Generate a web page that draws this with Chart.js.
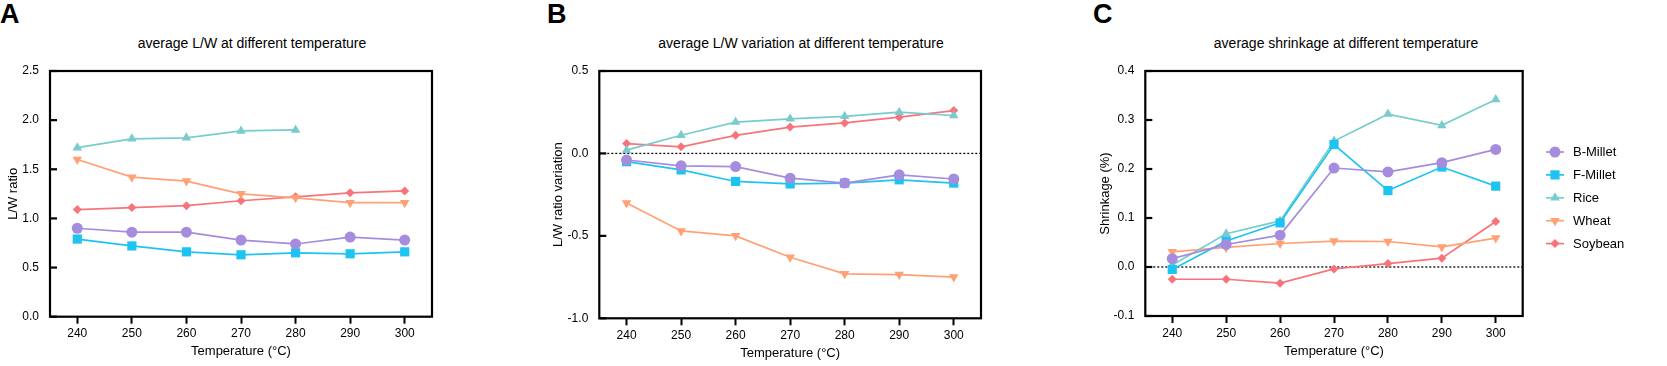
<!DOCTYPE html>
<html>
<head>
<meta charset="utf-8">
<script src="https://cdn.jsdelivr.net/npm/chart.js@4.4.0/dist/chart.umd.min.js"></script>
<style>
  body { margin: 0; background: #fff; width: 1667px; height: 366px; position: relative; overflow: hidden;
         font-family: "Liberation Sans", Arial, sans-serif; color: #000; }
  .panel { position: absolute; top: 0; height: 366px; }
  .letter { position: absolute; top: 1px; font-weight: bold; font-size: 27px; line-height: 1; }
  .title { position: absolute; top: 34px; font-size: 14px; line-height: 18px; transform: translateX(-50%); white-space: nowrap; }
</style>
</head>
<body>
<div class="letter" style="left:0px">A</div>
<div class="letter" style="left:547px">B</div>
<div class="letter" style="left:1093px">C</div>
<div class="title" style="left:252px">average L/W at different temperature</div>
<div class="title" style="left:801px">average L/W variation at different temperature</div>
<div class="title" style="left:1346px">average shrinkage at different temperature</div>

<div class="panel" style="left:0px;width:480px"><canvas id="chartA"></canvas></div>
<div class="panel" style="left:520px;width:520px"><canvas id="chartB"></canvas></div>
<div class="panel" style="left:1060px;width:607px"><canvas id="chartC"></canvas></div>

<script>
// temperatures (°C)
const temperatures = ['240', '250', '260', '270', '280', '290', '300'];
const seriesNames = ['B-Millet', 'F-Millet', 'Rice', 'Wheat', 'Soybean'];

// A: average L/W ratio
const ratioBMillet = [0.90, 0.86, 0.86, 0.78, 0.74, 0.81, 0.78];
const ratioFMillet = [0.79, 0.72, 0.66, 0.63, 0.65, 0.64, 0.66];
const ratioRice    = [1.72, 1.81, 1.82, 1.89, 1.90];
const ratioWheat   = [1.60, 1.42, 1.38, 1.25, 1.21, 1.16, 1.16];
const ratioSoybean = [1.09, 1.11, 1.13, 1.18, 1.22, 1.26, 1.28];

// B: L/W ratio variation
const varBMillet = [-0.04, -0.075, -0.08, -0.15, -0.18, -0.13, -0.155];
const varFMillet = [-0.05, -0.10, -0.17, -0.185, -0.18, -0.16, -0.18];
const varRice    = [0.02, 0.11, 0.19, 0.21, 0.225, 0.25, 0.23];
const varWheat   = [-0.30, -0.47, -0.50, -0.63, -0.73, -0.735, -0.75];
const varSoybean = [0.06, 0.04, 0.11, 0.16, 0.185, 0.22, 0.26];

// C: shrinkage
const shrinkBMillet = [0.017, 0.046, 0.065, 0.202, 0.194, 0.213, 0.240];
const shrinkFMillet = [-0.005, 0.053, 0.090, 0.250, 0.156, 0.204, 0.165];
const shrinkRice    = [0.004, 0.068, 0.094, 0.257, 0.312, 0.289, 0.342];
const shrinkWheat   = [0.031, 0.040, 0.048, 0.053, 0.052, 0.041, 0.059];
const shrinkSoybean = [-0.025, -0.025, -0.033, -0.004, 0.007, 0.018, 0.093];

const colors    = ['#a68cdc', '#1fc3f2', '#78cccc', '#ffa174', '#f8747a'];
const styles    = ['circle', 'rect', 'triangle', 'triangle', 'rectRot'];
const rotations = [0, 0, 0, 180, 0];
const radii     = [5.5, 6.5, 5.5, 5.5, 4.5];

const FONT = '"Liberation Sans", Arial, sans-serif';

function makeSet(i, data) {
    return {
        label: seriesNames[i],
        data: data,
        borderColor: colors[i],
        backgroundColor: colors[i],
        pointBackgroundColor: colors[i],
        pointBorderColor: colors[i],
        pointBorderWidth: 0,
        pointStyle: styles[i],
        pointRotation: rotations[i],
        pointRadius: radii[i],
        pointHoverRadius: radii[i],
        borderWidth: 1.7,
        tension: 0,
        clip: false
    };
}

// frame box, inward y ticks and dotted zero line
const framePlugin = {
    id: 'frame',
    beforeDatasetsDraw(chart, args, opts) {
        const { ctx, chartArea: a } = chart;
        const y = chart.scales.y;
        ctx.save();
        if (opts.zeroLine) {
            const py = y.getPixelForValue(0);
            ctx.strokeStyle = '#000';
            ctx.lineWidth = 1.3;
            ctx.setLineDash([2, 2]);
            ctx.beginPath();
            ctx.moveTo(a.left, py);
            ctx.lineTo(a.right, py);
            ctx.stroke();
            ctx.setLineDash([]);
        }
        ctx.strokeStyle = '#000';
        ctx.lineWidth = 2.2;
        ctx.strokeRect(a.left, a.top, a.right - a.left, a.bottom - a.top);
        y.ticks.forEach(t => {
            const py = y.getPixelForValue(t.value);
            ctx.beginPath();
            ctx.moveTo(a.left, py);
            ctx.lineTo(a.left + 7, py);
            ctx.stroke();
        });
        ctx.restore();
    }
};

// legend with line through the marker (panel C)
const sideLegend = {
    id: 'sideLegend',
    afterDraw(chart, args, opts) {
        if (!opts.show) return;
        const ctx = chart.ctx;
        ctx.save();
        chart.data.datasets.forEach((ds, i) => {
            const y = opts.top + i * opts.gap;
            ctx.strokeStyle = colors[i];
            ctx.fillStyle = colors[i];
            ctx.lineWidth = 1.7;
            ctx.beginPath();
            ctx.moveTo(opts.x - 9, y);
            ctx.lineTo(opts.x + 9, y);
            ctx.stroke();
            if (Chart.helpers && Chart.helpers.drawPoint) {
                Chart.helpers.drawPoint(ctx, { pointStyle: styles[i], rotation: rotations[i], radius: radii[i], borderWidth: 0 }, opts.x, y);
            } else {
                ctx.beginPath(); ctx.arc(opts.x, y, 5, 0, Math.PI * 2); ctx.fill();
            }
            ctx.fillStyle = '#000';
            ctx.font = '13px ' + FONT;
            ctx.textBaseline = 'middle';
            ctx.fillText(ds.label, opts.x + 18, y + 0.5);
        });
        ctx.restore();
    }
};

function makeChart(id, sets, yCfg, pad, yWidth, yTitle, extra) {
    return new Chart(document.getElementById(id), {
        type: 'line',
        data: { labels: temperatures, datasets: sets },
        options: {
            responsive: true,
            maintainAspectRatio: false,
            animation: false,
            layout: { padding: pad },
            plugins: {
                legend: { display: false },
                tooltip: { enabled: false },
                frame: { zeroLine: extra.zeroLine },
                sideLegend: extra.legend || { show: false }
            },
            scales: {
                x: {
                    type: 'category',
                    offset: true,
                    grid: { drawOnChartArea: false, drawTicks: true, tickLength: 7, tickWidth: 2, tickColor: '#000', offset: false },
                    border: { display: false },
                    ticks: { color: '#000', font: { size: 12, family: FONT }, padding: 3, maxRotation: 0 },
                    title: { display: true, text: 'Temperature (°C)', color: '#000', font: { size: 13, family: FONT } },
                    afterFit: s => { s.height = 47; }
                },
                y: {
                    min: yCfg.min,
                    max: yCfg.max,
                    grid: { display: false },
                    border: { display: false },
                    ticks: { stepSize: yCfg.step, color: '#000', font: { size: 12, family: FONT }, padding: 3,
                             callback: v => Number(v).toFixed(1) },
                    title: { display: true, text: yTitle, color: '#000', font: { size: 13, family: FONT }, padding: { top: 0, bottom: 0 } },
                    afterFit: s => { s.width = yWidth; }
                }
            }
        },
        plugins: [framePlugin, sideLegend]
    });
}

makeChart('chartA',
    [makeSet(0, ratioBMillet), makeSet(1, ratioFMillet), makeSet(2, ratioRice), makeSet(3, ratioWheat), makeSet(4, ratioSoybean)],
    { min: 0, max: 2.5, step: 0.5 }, { top: 71, bottom: 2.3, left: 6, right: 48 }, 44, 'L/W ratio', { zeroLine: false });

makeChart('chartB',
    [makeSet(0, varBMillet), makeSet(1, varFMillet), makeSet(2, varRice), makeSet(3, varWheat), makeSet(4, varSoybean)],
    { min: -1, max: 0.5, step: 0.5 }, { top: 71, bottom: 0.7, left: 31, right: 59 }, 48.3, 'L/W ratio variation', { zeroLine: true });

makeChart('chartC',
    [makeSet(0, shrinkBMillet), makeSet(1, shrinkFMillet), makeSet(2, shrinkRice), makeSet(3, shrinkWheat), makeSet(4, shrinkSoybean)],
    { min: -0.1, max: 0.4, step: 0.1 }, { top: 71, bottom: 3, left: 37.7, right: 144.3 }, 47.6, 'Shrinkage (%)',
    { zeroLine: true, legend: { show: true, x: 495, top: 152, gap: 22.9 } });
</script>
</body>
</html>
